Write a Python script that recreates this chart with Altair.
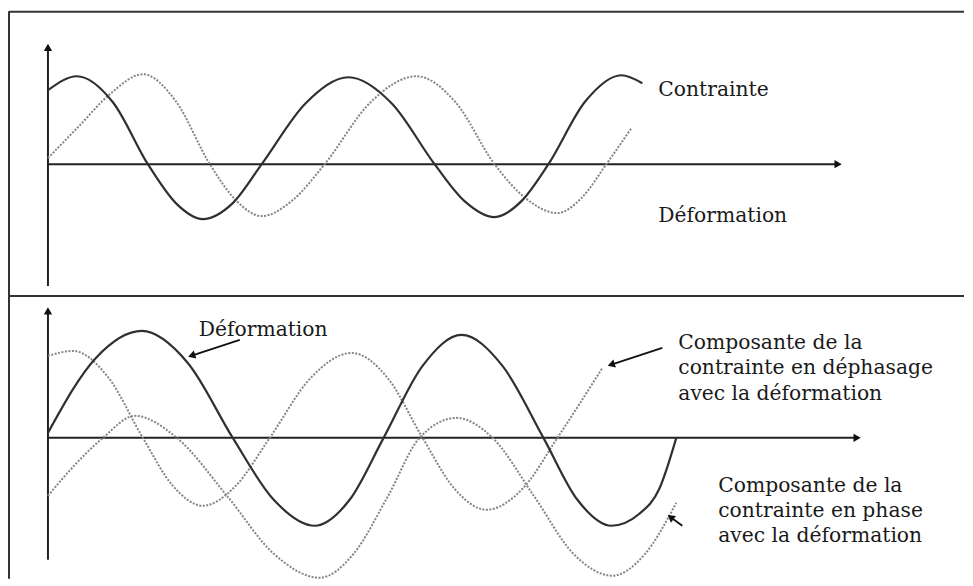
import math
import altair as alt
import pandas as pd

# ---------------- values ----------------
# t = position along the time axis, a = amplitude (0 on the time axis)
top_contrainte_t = [0, 29, 65, 100, 128, 155, 185, 214, 258, 301, 344, 387, 417, 447,
                    474, 501, 538, 574, 595]
top_contrainte_a = [74, 88, 62, 0, -39, -55, -39, 0, 61, 87, 61, 0, -37, -53,
                    -37, 0, 63, 89, 81]
top_deformation_t = [0, 31, 62, 95, 128, 162, 188, 214, 245, 277, 323, 369, 408, 447,
                     478, 510, 534, 559, 584]
top_deformation_a = [6, 38, 70, 90, 63, 0, -36, -52, -36, 0, 62, 88, 62, 0,
                     -34, -49, -34, 0, 36]

bot_deformation_t = [0, 48, 94, 140, 185, 226, 267, 302, 336, 375, 414, 455, 496, 530,
                     564, 592, 612, 629]
bot_deformation_a = [5, 80, 107, 75, 0, -62, -88, -62, 0, 72, 103, 72, 0, -62,
                     -88, -76, -51, 0]
bot_dephasage_t = [0, 25, 60, 95, 125, 155, 188, 222, 263, 304, 340, 375, 407, 439,
                   475, 510, 555]
bot_dephasage_a = [82, 87, 61, 0, -48, -68, -48, 0, 60, 85, 60, 0, -51, -72,
                   -51, 0, 70]
bot_enphase_t = [0, 27, 55, 87, 129, 180, 226, 272, 306, 340, 372, 409, 445, 487,
                 526, 565, 597, 629]
bot_enphase_a = [-58, -27, 0, 22, 0, -59, -116, -140, -116, -59, 0, 20, 0, -59,
                 -116, -138, -117, -65]

top_labels = ["Contrainte", "Déformation"]
top_label_t = [611, 611]
top_label_a = [74, -52]

bot_labels = ["Déformation",
              "Composante de la", "contrainte en déphasage", "avec la déformation",
              "Composante de la", "contrainte en phase", "avec la déformation"]
bot_label_t = [151, 631, 631, 631, 671, 671, 671]
bot_label_a = [108, 95, 70, 44, -48, -73, -98]

# annotation arrows (bottom panel): tail -> head
arrow_tail_t = [192, 615, 635]
arrow_tail_a = [98, 90, -88]
arrow_head_t = [140, 560, 620]
arrow_head_a = [81, 72, -77]

# axes: length of time axis, extent of amplitude axis
top_axis_len = 796
top_axis_ymin, top_axis_ymax = -122, 122
bot_axis_len = 815
bot_axis_ymin, bot_axis_ymax = -122, 132

# panel domains
X_DOM = [-40, 917]
TOP_Y_DOM = [-132, 153]
BOT_Y_DOM = [-141, 142]
W = 957
TOP_H = 285
BOT_H = 283

DARK = "#303030"
GREY = "#858585"
FONT = "DejaVu Serif"


def xs(dom):
    return alt.X("t:Q", scale=alt.Scale(domain=dom, nice=False, zero=False), axis=None)


def ys(dom):
    return alt.Y("a:Q", scale=alt.Scale(domain=dom, nice=False, zero=False), axis=None)


def curve(ts, as_, ydom, dashed):
    df = pd.DataFrame({"t": ts, "a": as_})
    if dashed:
        m = alt.Chart(df).mark_line(interpolate="monotone", color=GREY, strokeWidth=2,
                                   strokeDash=[2, 1.5])
    else:
        m = alt.Chart(df).mark_line(interpolate="monotone", color=DARK, strokeWidth=2.2)
    return m.encode(x=xs(X_DOM), y=ys(ydom))


def rules(rows, ydom, color, width):
    df = pd.DataFrame(rows, columns=["t", "t2", "a", "a2"])
    return alt.Chart(df).mark_rule(color=color, strokeWidth=width).encode(
        x=xs(X_DOM), x2="t2:Q", y=ys(ydom), y2="a2:Q")


def heads(rows, ydom, size=70):
    df = pd.DataFrame(rows, columns=["t", "a", "ang"])
    return alt.Chart(df).mark_point(shape="triangle-up", filled=True, color="#111111",
                                    size=size, opacity=1).encode(
        x=xs(X_DOM), y=ys(ydom), angle=alt.Angle("ang:Q", scale=None))


def labels(txt, ts, as_, ydom):
    df = pd.DataFrame({"label": txt, "t": ts, "a": as_})
    return alt.Chart(df).mark_text(align="left", baseline="middle", font=FONT,
                                   fontSize=20.3, color="#1a1a1a").encode(
        x=xs(X_DOM), y=ys(ydom), text="label:N")


# ---------------- top panel ----------------
top_frame = rules([
    [X_DOM[0] + 1, X_DOM[0] + 1, TOP_Y_DOM[0], TOP_Y_DOM[1]],
    [X_DOM[0] + 1, X_DOM[1], TOP_Y_DOM[1] - 0.5, TOP_Y_DOM[1] - 0.5],
    [X_DOM[0] + 1, X_DOM[1], TOP_Y_DOM[0], TOP_Y_DOM[0]],
], TOP_Y_DOM, "#333333", 2)
top_axes = rules([
    [0, top_axis_len - 6, 0, 0],
    [0, 0, top_axis_ymin, top_axis_ymax - 6],
], TOP_Y_DOM, "#222222", 2)
top_heads = heads([[top_axis_len - 5, 0, 90], [0, top_axis_ymax - 5, 0]], TOP_Y_DOM)

top = alt.layer(
    top_frame, top_axes, top_heads,
    curve(top_deformation_t, top_deformation_a, TOP_Y_DOM, True),
    curve(top_contrainte_t, top_contrainte_a, TOP_Y_DOM, False),
    labels(top_labels, top_label_t, top_label_a, TOP_Y_DOM),
).properties(width=W, height=TOP_H)

# ---------------- bottom panel ----------------
bot_frame = rules([
    [X_DOM[0] + 1, X_DOM[0] + 1, BOT_Y_DOM[0], BOT_Y_DOM[1]],
], BOT_Y_DOM, "#333333", 2)
bot_axes = rules([
    [0, bot_axis_len - 6, 0, 0],
    [0, 0, bot_axis_ymin, bot_axis_ymax - 6],
], BOT_Y_DOM, "#222222", 2)
bot_axis_heads = heads([[bot_axis_len - 5, 0, 90], [0, bot_axis_ymax - 5, 0]], BOT_Y_DOM)

arrow_rows = []
arrow_head_rows = []
for t0, a0, t1, a1 in zip(arrow_tail_t, arrow_tail_a, arrow_head_t, arrow_head_a):
    dx, dy = t1 - t0, a1 - a0
    L = math.hypot(dx, dy)
    ux, uy = dx / L, dy / L
    ang = math.degrees(math.atan2(dx, dy)) % 360
    arrow_rows.append([t0, t1 - ux * 5, a0, a1 - uy * 5])
    arrow_head_rows.append([t1 - ux * 4, a1 - uy * 4, ang])

bot_arrows = rules(arrow_rows, BOT_Y_DOM, "#111111", 1.8)
bot_arrow_heads = heads(arrow_head_rows, BOT_Y_DOM, size=70)

bottom = alt.layer(
    bot_frame, bot_axes, bot_axis_heads,
    curve(bot_dephasage_t, bot_dephasage_a, BOT_Y_DOM, True),
    curve(bot_enphase_t, bot_enphase_a, BOT_Y_DOM, True),
    curve(bot_deformation_t, bot_deformation_a, BOT_Y_DOM, False),
    bot_arrows, bot_arrow_heads,
    labels(bot_labels, bot_label_t, bot_label_a, BOT_Y_DOM),
).properties(width=W, height=BOT_H)

chart = alt.vconcat(top, bottom, spacing=0, bounds="flush").properties(
    padding={"top": 2, "bottom": 0, "left": 0, "right": 0},
    background="white",
).configure_view(stroke=None).resolve_scale(x="independent", y="independent")

chart.save("out.html", embed_options={"renderer": "svg", "actions": False})
